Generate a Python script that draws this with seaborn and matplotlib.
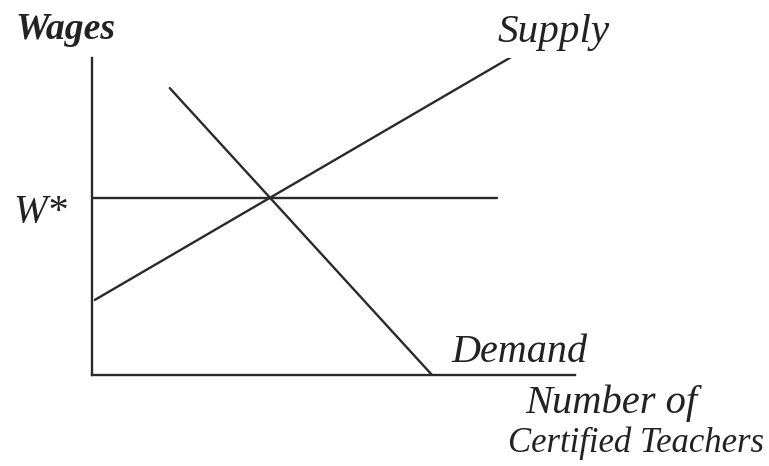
import pandas as pd
import matplotlib.pyplot as plt
import seaborn as sns

# Curves in diagram units (quantity 0-10, wage 0-10)
supply_q = [0.06, 8.86]
supply_w = [2.37, 10.19]
demand_q = [1.61, 7.04]
demand_w = [9.05, 0.0]
wage_star = 5.58
wage_line_q = [0.0, 8.39]

label_texts = ['Wages', 'Supply', 'W*', 'Demand', 'Number of', 'Certified Teachers']

sns.set_style('white')
plt.rcParams['font.family'] = ['Liberation Serif', 'DejaVu Serif']

W, H = 769, 466
fig = plt.figure(figsize=(W / 100, H / 100), dpi=100)
ax = fig.add_axes([92 / W, 1 - 375 / H, 483 / W, 317 / H])

line_color = '#2a2a2a'
lines = pd.concat([
    pd.DataFrame({'q': supply_q, 'w': supply_w, 'curve': 'Supply'}),
    pd.DataFrame({'q': demand_q, 'w': demand_w, 'curve': 'Demand'}),
    pd.DataFrame({'q': wage_line_q, 'w': [wage_star] * 2, 'curve': 'W*'}),
])
sns.lineplot(data=lines, x='q', y='w', units='curve', estimator=None,
             color=line_color, linewidth=1.7, sort=False, ax=ax)

ax.set_xlim(0, 10)
ax.set_ylim(0, 10)
ax.set_xticks([])
ax.set_yticks([])
ax.set_xlabel('')
ax.set_ylabel('')
for side in ['top', 'right']:
    ax.spines[side].set_visible(False)
for side in ['left', 'bottom']:
    ax.spines[side].set_color(line_color)
    ax.spines[side].set_linewidth(1.7)

# (left px, right px, baseline px) for each label
boxes = [(15, 115, 39), (498, 610, 42), (13, 67, 222),
         (451, 587, 362), (525, 697, 413), (520, 764, 452)]

renderer = fig.canvas.get_renderer()
for s, (x0, x1, yb) in zip(label_texts, boxes):
    t = fig.text(x0 / W, 1 - yb / H, s, ha='left', va='baseline',
                 style='italic', fontsize=25, color='#222222',
                 weight='bold' if s == 'Wages' else 'normal')
    width = t.get_window_extent(renderer).width
    size = 25 * (x1 - x0) / width
    if size < 25:
        # keep the long label readable; anchor it at its right edge instead
        size = 25
        t.set_horizontalalignment('right')
        t.set_x(x1 / W)
    t.set_fontsize(size)

plt.savefig('out.png', dpi=100)
